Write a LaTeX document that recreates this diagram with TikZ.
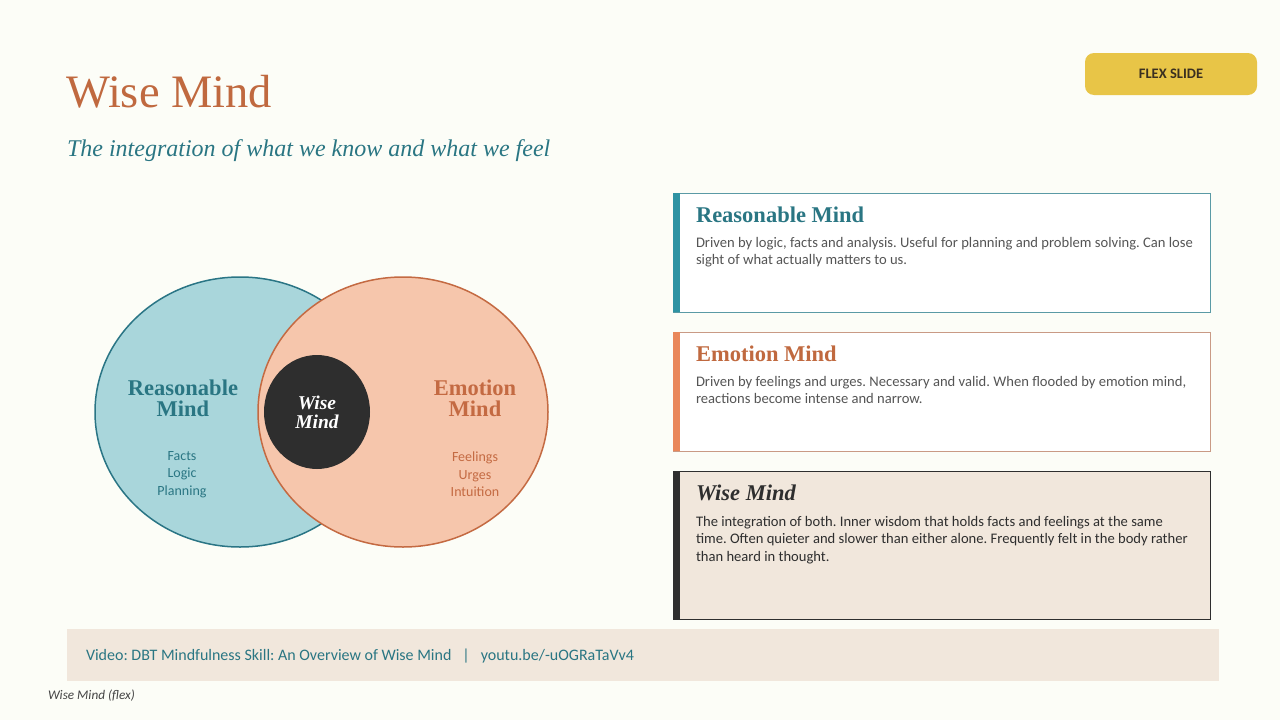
\documentclass[tikz,border=0pt]{standalone}
\usepackage{fontspec}
\setmainfont{Liberation Serif}
\newfontfamily\carlito{Carlito}
\usetikzlibrary{shapes.geometric}
\definecolor{bg}{HTML}{FCFDF7}
\definecolor{rust}{HTML}{C0693F}
\definecolor{rustline}{HTML}{C46A42}
\definecolor{teal}{HTML}{2A7683}
\definecolor{tealline}{HTML}{2A7585}
\definecolor{lblue}{HTML}{A9D6DB}
\definecolor{peach}{HTML}{F6C6AC}
\definecolor{dark}{HTML}{2E2E2E}
\definecolor{bar1}{HTML}{2F93A3}
\definecolor{bord1}{HTML}{5A9AA5}
\definecolor{bar2}{HTML}{E9875A}
\definecolor{bord2}{HTML}{C99A85}
\definecolor{beige}{HTML}{F1E7DC}
\definecolor{gold}{HTML}{E8C547}
\definecolor{goldtext}{HTML}{3A3020}
\definecolor{body}{HTML}{555555}
\definecolor{note}{HTML}{444444}
\newcommand{\fs}[2]{\fontsize{#1}{#2}\selectfont}
\frenchspacing
\begin{document}
\begin{tikzpicture}[x=1pt,y=-1pt,
  every node/.style={inner sep=0pt, outer sep=0pt},
  card/.style={draw, line width=0.8pt, anchor=north west, minimum width=537pt},
  cardbar/.style={anchor=north west, minimum width=7pt},
  cardhead/.style={anchor=base west, font=\fs{22.5}{27}\bfseries},
  cardbody/.style={anchor=north west, align=left, font=\carlito\frenchspacing\fs{14.6}{17.5}, text=body},
  venntext/.style={align=center, font=\fs{22.5}{21}\bfseries},
  vennlist/.style={align=center, font=\carlito\fs{14}{17.5}},
]
\fill[bg] (0,0) rectangle (1280,720);
\useasboundingbox (0,0) rectangle (1280,720);

% title
\node[anchor=base west, text=rust, font=\fs{46.5}{50}] (title) at (66,107) {Wise Mind};
\node[anchor=base west, text=teal, font=\fs{24}{28}\itshape] (subtitle) at (67,156) {The integration of what we know and what we feel};

% flex slide badge
\node[fill=gold, rounded corners=9pt, minimum width=172pt, minimum height=42pt, text=goldtext, font=\carlito\fs{14.5}{17}\bfseries] (flex) at (1171,74) {FLEX SLIDE};

% venn
\node[ellipse, fill=lblue, draw=tealline, line width=1.5pt, minimum width=290pt, minimum height=270pt] (rc) at (240,412) {};
\node[ellipse, fill=peach, draw=rustline, line width=1.5pt, minimum width=290pt, minimum height=270pt] (ec) at (403,412) {};
\node[ellipse, fill=dark, minimum width=106pt, minimum height=114pt] (wc) at (317,412) {};
\node[venntext, text=teal] (rlab) at (183,398) {Reasonable\\Mind};
\node[venntext, text=rustline] (elab) at (475,398) {Emotion\\Mind};
\node[align=center, text=white, font=\fs{19.5}{19}\bfseries\itshape] (wlab) at (317,412) {Wise\\Mind};
\node[vennlist, text=teal] (rlist) at (182,474.5) {Facts\\Logic\\Planning};
\node[vennlist, text=rustline] (elist) at (475,474.5) {Feelings\\Urges\\Intuition};

% card 1
\node[card, draw=bord1, fill=white, minimum height=119pt] (c1) at (673,193) {};
\node[cardbar, fill=bar1, minimum height=119pt] (c1bar) at (673,193) {};
\node[cardhead, text=teal] (c1h) at (696,222.5) {Reasonable Mind};
\node[cardbody] (c1b) at (696,237) {Driven by logic, facts and analysis. Useful for planning and problem solving. Can lose\\sight of what actually matters to us.};

% card 2
\node[card, draw=bord2, fill=white, minimum height=119pt] (c2) at (673,332) {};
\node[cardbar, fill=bar2, minimum height=119pt] (c2bar) at (673,332) {};
\node[cardhead, text=rust] (c2h) at (696,361.5) {Emotion Mind};
\node[cardbody] (c2b) at (696,376) {Driven by feelings and urges. Necessary and valid. When flooded by emotion mind,\\reactions become intense and narrow.};

% card 3
\node[card, draw=dark, fill=beige, minimum height=148pt] (c3) at (673,471) {};
\node[cardbar, fill=dark, minimum height=148pt] (c3bar) at (673,471) {};
\node[cardhead, text=dark, font=\fs{22.5}{27}\bfseries\itshape] (c3h) at (696,500.5) {Wise Mind};
\node[cardbody, text=dark] (c3b) at (696,516) {The integration of both. Inner wisdom that holds facts and feelings at the same\\time. Often quieter and slower than either alone. Frequently felt in the body rather\\than heard in thought.};

% footer
\node[fill=beige, anchor=north west, minimum width=1152pt, minimum height=52pt] (foot) at (67,629) {};
\node[anchor=west, text=teal, font=\carlito\fs{16}{19}] (foottext) at (86,656) {Video: DBT Mindfulness Skill: An Overview of Wise Mind\hspace{11pt}|\hspace{11pt}youtu.be/-uOGRaTaVv4};
\node[anchor=base west, text=note, font=\carlito\fs{13.2}{15}\itshape] (label) at (48,699) {Wise Mind (flex)};
\end{tikzpicture}
\end{document}
